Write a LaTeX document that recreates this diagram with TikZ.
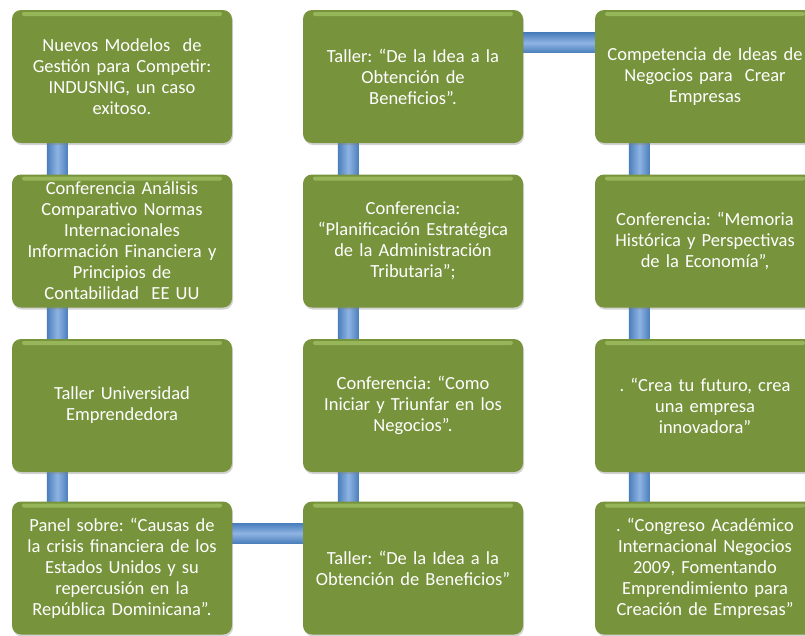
\documentclass[tikz,border=0pt]{standalone}
\usepackage{fontspec}
\setmainfont{Carlito}
\usetikzlibrary{shadows,backgrounds}
\definecolor{boxgreen}{HTML}{77933C}
\definecolor{boxhi}{HTML}{97B65A}
\definecolor{bardark}{HTML}{4A7EBB}
\definecolor{barlight}{HTML}{8FB4E3}
\frenchspacing
\begin{document}
\begin{tikzpicture}[x=1pt,y=-1pt,
  card/.style={rounded corners=9pt, fill=boxgreen, minimum width=220pt, minimum height=133pt,
    text width=212pt, align=center, text=white, font=\fontsize{18.5}{21}\selectfont, inner sep=0pt,
    drop shadow={opacity=0.35, shadow xshift=1pt, shadow yshift=-2pt},
    path picture={\fill[boxhi, rounded corners=2pt]
      ([xshift=10pt,yshift=-2pt]path picture bounding box.north west) rectangle
      ([xshift=-10pt,yshift=-6pt]path picture bounding box.north east);}},
  vbar/.style={left color=bardark, right color=bardark, middle color=barlight},
  hbar/.style={top color=bardark, bottom color=bardark, middle color=barlight}]
\useasboundingbox (0,0) rectangle (805,635);
\clip (0,0) rectangle (805,635);

\node[card] (a1) at (122,76.5) {Nuevos Modelos\ \ de\\Gestión para Competir:\\INDUSNIG, un caso\\exitoso.};
\node[card] (a2) at (122,241) {Conferencia Análisis\\Comparativo Normas\\Internacionales\\Información Financiera y\\Principios de\\Contabilidad\ \ EE UU};
\node[card] (a3) at (122,405.5) {Taller Universidad\\Emprendedora};
\node[card] (a4) at (122,568) {Panel sobre: “Causas de\\la crisis financiera de los\\Estados Unidos y su\\repercusión en la\\República Dominicana”.};

\node[card] (b1) at (413,76.5) {Taller: “De la Idea a la\\Obtención de\\Beneficios”.};
\node[card] (b2) at (413,241) {Conferencia:\\“Planificación Estratégica\\de la Administración\\Tributaria”;};
\node[card] (b3) at (413,405.5) {Conferencia: “Como\\Iniciar y Triunfar en los\\Negocios”.};
\node[card] (b4) at (413,568) {Taller: “De la Idea a la\\Obtención de Beneficios”};

\node[card] (c1) at (705,76.5) {Competencia de Ideas de\\Negocios para\ \ Crear\\Empresas};
\node[card] (c2) at (705,241) {Conferencia: “Memoria\\Histórica y Perspectivas\\de la Economía”,};
\node[card] (c3) at (705,405.5) {. “Crea tu futuro, crea\\una empresa\\innovadora”};
\node[card] (c4) at (705,568) {. “Congreso Académico\\Internacional Negocios\\2009, Fomentando\\Emprendimiento para\\Creación de Empresas”};

\begin{scope}[on background layer]
  \foreach \u/\v in {a1/a2,a2/a3,a3/a4,b1/b2,b2/b3,b3/b4}
    \path[vbar] ([xshift=35pt,yshift=6pt]\u.south west) rectangle ([xshift=56pt,yshift=-6pt]\v.north west);
  \foreach \u/\v in {c1/c2,c2/c3,c3/c4}
    \path[vbar] ([xshift=34pt,yshift=6pt]\u.south west) rectangle ([xshift=55pt,yshift=-6pt]\v.north west);
  \path[hbar] ([xshift=-6pt,yshift=-23pt]b1.north east) rectangle ([xshift=6pt,yshift=-43pt]c1.north west);
  \path[hbar] ([xshift=-6pt,yshift=-22pt]a4.north east) rectangle ([xshift=6pt,yshift=-42pt]b4.north west);
\end{scope}
\end{tikzpicture}
\end{document}
